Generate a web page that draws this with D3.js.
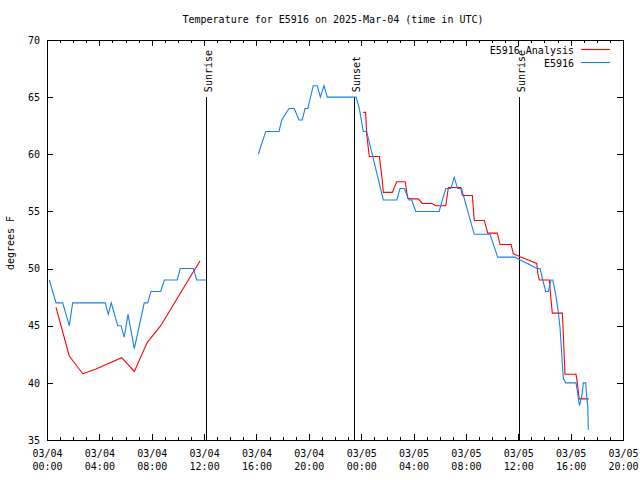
<!DOCTYPE html>
<html><head><meta charset="utf-8">
<script src="https://cdn.jsdelivr.net/npm/d3@7"></script>
<style>
body{margin:0;background:#fff;}
svg{display:block;}
text{font-family:"DejaVu Sans Mono","Liberation Mono",monospace;font-size:10px;fill:#000;}
</style></head>
<body>
<svg id="chart" width="640" height="480"></svg>
<script>
// ---- data (hours since 2025-03-04 00:00 UTC) ----
const blueHours = [0.18,0.69,1.20,1.70,1.96,4.45,4.68,4.91,5.40,5.65,5.90,6.19,6.67,7.43,7.69,7.94,8.69,8.96,9.95,10.18,11.18,11.44,12.15,
  14.0,
  16.14,16.71,17.72,17.93,18.49,18.89,19.25,19.50,19.71,19.92,20.34,20.65,20.88,21.16,21.41,23.61,23.86,24.16,24.42,25.69,26.72,26.97,27.30,27.65,27.86,28.17,29.95,30.46,30.86,31.11,31.36,31.66,32.64,33.84,34.43,35.75,36.14,36.77,37.41,37.66,37.87,38.10,38.30,38.50,38.63,38.88,39.06,39.19,39.27,39.37,39.44,39.63,40.41,40.54,40.67,40.85,40.97,41.15,41.23,41.31,41.35];
const blueTemps = [49,47,47,45,47,47,46,47,45,45,44,46,43,47,47,48,48,49,49,50,50,49,49,
  null,
  60,62,62,63,64,64,63,63,64,64,66,66,65,66,65,65,64,62,62,56,56,57,57,56,56,55,55,57,57,58,57,57,53,53,51,51,50.75,50.4,50,50,49,48,48,49,49,47.6,46.2,44.8,43.4,41.6,40.4,40,40,39.1,38,38.8,40,40,38.8,37.9,35.9];

const redHours = [0.69,1.70,2.73,3.70,4.70,5.71,6.67,7.66,8.69,9.69,10.69,11.69,
  18.0,
  24.16,24.34,24.42,24.62,25.39,25.61,25.69,26.38,26.71,27.37,27.55,27.91,28.36,28.67,29.43,29.69,30.46,30.66,31.60,31.73,32.49,32.64,33.41,33.67,34.40,34.61,35.45,35.62,36.13,36.77,37.41,37.49,37.61,38.37,38.48,38.60,39.37,39.57,40.41,40.51,40.65,41.38];
const redTemps = [46.6,42.35,40.8,41.2,41.7,42.2,41.0,43.55,45.0,46.9,48.8,50.66,
  null,
  63.67,63.67,61.75,59.8,59.8,57.75,56.67,56.67,57.6,57.6,56.15,56.1,56.1,55.7,55.7,55.5,55.5,57.1,57.1,56.4,56.4,54.2,54.2,53.1,53.1,52.1,52.1,51.3,51.04,50.75,50.45,49.6,49.0,49.0,47.55,46.1,46.1,40.75,40.75,40.0,38.6,38.6];

const sunEventHours = [12.11, 23.42, 36.06];
const sunEventLabels = ["Sunrise", "Sunset", "Sunrise"];
const seriesNames = ["E5916 Analysis", "E5916"];
const seriesColors = ["#ff0000", "#1681ea"];
const yTicks = [35,40,45,50,55,60,65,70];
const titleText = "Temperature for E5916 on 2025-Mar-04 (time in UTC)";
const yLabel = "degrees F";

// ---- setup ----
const base = Date.UTC(2025, 2, 4, 0, 0);
const toDate = h => new Date(base + h * 3600e3);
const L = 47, R = 623, T = 40, B = 440;
const svg = d3.select("#chart");
const x = d3.scaleUtc().domain([toDate(0), toDate(44)]).range([L, R]);
const y = d3.scaleLinear().domain([35, 70]).range([B, T]);

// title
svg.append("text").attr("x", 333).attr("y", 23).attr("text-anchor", "middle").text(titleText);
// y label
svg.append("text").attr("transform", "translate(14,243) rotate(-90)").attr("text-anchor", "middle").text(yLabel);

// axes
function clean(g){ g.select(".domain").remove(); g.selectAll("line").attr("stroke","#000").attr("shape-rendering","crispEdges"); g.attr("font-size", null).attr("font-family", null); }
svg.append("g").attr("transform", `translate(0,${B})`)
  .call(d3.axisBottom(x).ticks(d3.utcHour.every(1)).tickSize(-3).tickFormat("")).call(clean);
svg.append("g").attr("transform", `translate(0,${T})`)
  .call(d3.axisTop(x).ticks(d3.utcHour.every(1)).tickSize(-3).tickFormat("")).call(clean);
const fmtD = d3.utcFormat("%m/%d"), fmtT = d3.utcFormat("%H:%M");
const gx = svg.append("g").attr("transform", `translate(0,${B})`)
  .call(d3.axisBottom(x).ticks(d3.utcHour.every(4)).tickSize(-6).tickPadding(0).tickFormat(""));
gx.call(clean);
gx.selectAll(".tick").append("text").attr("text-anchor","middle").attr("y", 17).text(d => fmtD(d));
gx.selectAll(".tick").append("text").attr("text-anchor","middle").attr("y", 30).text(d => fmtT(d));
svg.append("g").attr("transform", `translate(0,${T})`)
  .call(d3.axisTop(x).ticks(d3.utcHour.every(4)).tickSize(-6).tickFormat("")).call(clean);
svg.append("g").attr("transform", `translate(${L},0)`)
  .call(d3.axisLeft(y).tickValues(yTicks).tickSize(-6).tickPadding(7).tickFormat(d3.format("d"))).call(clean);
svg.append("g").attr("transform", `translate(${R},0)`)
  .call(d3.axisRight(y).tickValues(yTicks).tickSize(-6).tickFormat("")).call(clean);

// border
svg.append("rect").attr("x", L + 0.5).attr("y", T + 0.5).attr("width", R - L).attr("height", B - T)
  .attr("fill", "none").attr("stroke", "#000").attr("shape-rendering", "crispEdges");

// sun event lines
sunEventHours.forEach((h, i) => {
  const xx = Math.round(x(toDate(h))) + 0.5;
  svg.append("line").attr("x1", xx).attr("x2", xx).attr("y1", y(65)).attr("y2", y(35))
    .attr("stroke", "#000").attr("shape-rendering", "crispEdges");
  svg.append("text").attr("transform", `translate(${xx + 5},${y(65) - 5}) rotate(-90)`)
    .attr("text-anchor", "start").text(sunEventLabels[i]);
});

// series
const line = d3.line().defined(d => d[1] !== null).x(d => x(toDate(d[0]))).y(d => y(d[1]));
const redData = redHours.map((h, i) => [h, redTemps[i]]);
const blueData = blueHours.map((h, i) => [h, blueTemps[i]]);
svg.append("path").datum(redData).attr("d", line).attr("fill", "none").attr("stroke", seriesColors[0]).attr("stroke-width", 1.1);
svg.append("path").datum(blueData).attr("d", line).attr("fill", "none").attr("stroke", seriesColors[1]).attr("stroke-width", 1.1);

// legend
seriesNames.forEach((name, i) => {
  const yy = 50 + i * 13;
  svg.append("text").attr("x", 574).attr("y", yy + 4).attr("text-anchor", "end").text(name);
  svg.append("line").attr("x1", 581).attr("x2", 610).attr("y1", yy - 0.5).attr("y2", yy - 0.5)
    .attr("stroke", seriesColors[i]).attr("stroke-width", 1.1);
});
</script>
</body></html>
